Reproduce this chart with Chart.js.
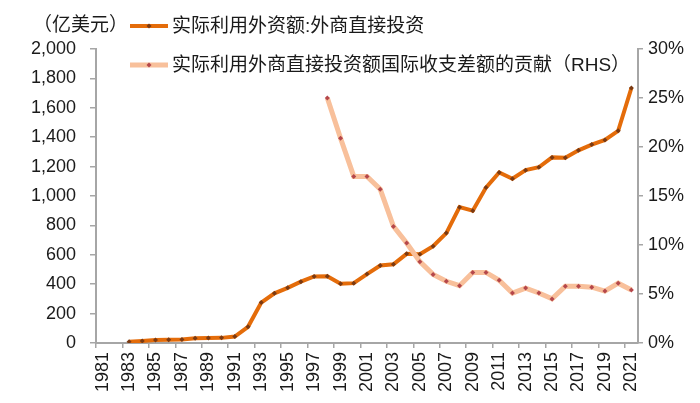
<!DOCTYPE html>
<html>
<head>
<meta charset="utf-8">
<script src="https://cdn.jsdelivr.net/npm/chart.js@4"></script>
<style>
  html, body { margin: 0; padding: 0; background: #fff; }
  #wrap { width: 700px; height: 403px; }
</style>
</head>
<body>
<div id="wrap"><canvas id="fdiChart" width="700" height="403"></canvas></div>
<script>
const years = [];
for (let y = 1981; y <= 2021; y++) years.push(String(y));

// 实际利用外资额:外商直接投资 (亿美元), 1981-2021
const fdiValues = [
  null, null, 9.2, 14.2, 19.6, 22.4, 23.1, 31.9, 33.9, 34.9,
  43.7, 110.1, 275.2, 337.7, 375.2, 417.3, 452.6, 454.6, 403.2, 407.2,
  468.8, 527.4, 535.1, 606.3, 603.3, 658.2, 747.7, 924.0, 900.3, 1057.4,
  1160.1, 1117.2, 1175.9, 1195.6, 1262.7, 1260.0, 1310.4, 1349.7, 1381.4, 1443.7,
  1734.8
];

// 实际利用外商直接投资额国际收支差额的贡献 (%, RHS)
const shareValues = [
  null, null, null, null, null, null, null, null, null, null,
  null, null, null, null, null, null, null, 25.0, 20.9, 17.0,
  17.0, 15.7, 11.9, 10.2, 8.3, 7.0, 6.3, 5.85, 7.2, 7.2,
  6.4, 5.1, 5.6, 5.1, 4.5, 5.8, 5.8, 5.7, 5.3, 6.1,
  5.4
];

const leftTicks = [0, 200, 400, 600, 800, 1000, 1200, 1400, 1600, 1800, 2000];
const rightTicks = [0, 5, 10, 15, 20, 25, 30];

const unitLabel = '（亿美元）';
const seriesNames = ['实际利用外资额:外商直接投资', '实际利用外商直接投资额国际收支差额的贡献（RHS）'];

const orange = '#e46c0a';
const orangeDot = '#7b3a12';
const peach = '#f8c09b';
const peachDot = '#b5474b';
const axisGrey = '#a6a6a6';
const textColor = '#1a1a1a';
const fontFamily = '"Liberation Sans", Arial, "Noto Sans CJK SC", sans-serif';

// legend and unit label drawn by hand at the top
const legendPlugin = {
  id: 'topLegend',
  afterDraw(chart) {
    const ctx = chart.ctx;
    ctx.save();
    ctx.font = '19px ' + fontFamily;
    ctx.fillStyle = textColor;
    ctx.textBaseline = 'middle';
    ctx.textAlign = 'left';
    ctx.fillText(unitLabel, 33, 26);

    const rows = [
      { y: 26, line: orange, lw: 4, dot: orangeDot, text: seriesNames[0] },
      { y: 65, line: peach, lw: 5, dot: peachDot, text: seriesNames[1] }
    ];
    rows.forEach(r => {
      ctx.strokeStyle = r.line;
      ctx.lineWidth = r.lw;
      ctx.beginPath();
      ctx.moveTo(130, r.y);
      ctx.lineTo(168, r.y);
      ctx.stroke();
      ctx.fillStyle = r.dot;
      ctx.beginPath();
      ctx.moveTo(149, r.y - 2.5);
      ctx.lineTo(151.5, r.y);
      ctx.lineTo(149, r.y + 2.5);
      ctx.lineTo(146.5, r.y);
      ctx.closePath();
      ctx.fill();
      ctx.fillStyle = textColor;
      ctx.fillText(r.text, 172, r.y + 1);
    });
    ctx.restore();
  }
};

new Chart(document.getElementById('fdiChart'), {
  type: 'line',
  data: {
    labels: years,
    datasets: [
      {
        label: seriesNames[1],
        data: shareValues,
        yAxisID: 'y1',
        borderColor: peach,
        borderWidth: 5,
        pointStyle: 'rectRot',
        pointRadius: 2.5,
        pointBackgroundColor: peachDot,
        pointBorderWidth: 0,
        tension: 0
      },
      {
        label: seriesNames[0],
        data: fdiValues,
        yAxisID: 'y',
        borderColor: orange,
        borderWidth: 4,
        pointStyle: 'rectRot',
        pointRadius: 2.5,
        pointBackgroundColor: orangeDot,
        pointBorderWidth: 0,
        tension: 0
      }
    ]
  },
  options: {
    responsive: false,
    animation: false,
    layout: { padding: { top: 49, left: 0, right: 0, bottom: 0 } },
    plugins: {
      legend: { display: false },
      tooltip: { enabled: false }
    },
    scales: {
      x: {
        offset: true,
        grid: {
          offset: true,
          drawOnChartArea: false,
          tickLength: 5,
          color: ctx => (ctx.index % 2 === 0 ? axisGrey : 'rgba(0,0,0,0)'),
          lineWidth: 1.5
        },
        border: { color: axisGrey, width: 2 },
        ticks: {
          autoSkip: false,
          maxRotation: 90,
          minRotation: 90,
          padding: 4,
          color: textColor,
          font: { size: 18, family: fontFamily },
          callback: function(value, index) {
            return index % 2 === 0 ? this.getLabelForValue(value) : '';
          }
        },
        afterFit(scale) { scale.height = 60; }
      },
      y: {
        position: 'left',
        min: leftTicks[0],
        max: leftTicks[leftTicks.length - 1],
        afterBuildTicks(scale) { scale.ticks = leftTicks.map(v => ({ value: v })); },
        grid: { drawOnChartArea: false, tickLength: 6, color: axisGrey, lineWidth: 1.5 },
        border: { color: axisGrey, width: 2 },
        ticks: {
          padding: 14,
          color: textColor,
          font: { size: 18, family: fontFamily },
          callback: v => v.toLocaleString('en-US')
        },
        afterFit(scale) { scale.width = 96; }
      },
      y1: {
        position: 'right',
        min: rightTicks[0],
        max: rightTicks[rightTicks.length - 1],
        afterBuildTicks(scale) { scale.ticks = rightTicks.map(v => ({ value: v })); },
        grid: { drawOnChartArea: false, tickLength: 5, color: axisGrey, lineWidth: 1.5 },
        border: { color: axisGrey, width: 2 },
        ticks: {
          padding: 5,
          color: textColor,
          font: { size: 18, family: fontFamily },
          callback: v => v + '%'
        },
        afterFit(scale) { scale.width = 62; }
      }
    }
  },
  plugins: [legendPlugin]
});
</script>
</body>
</html>
